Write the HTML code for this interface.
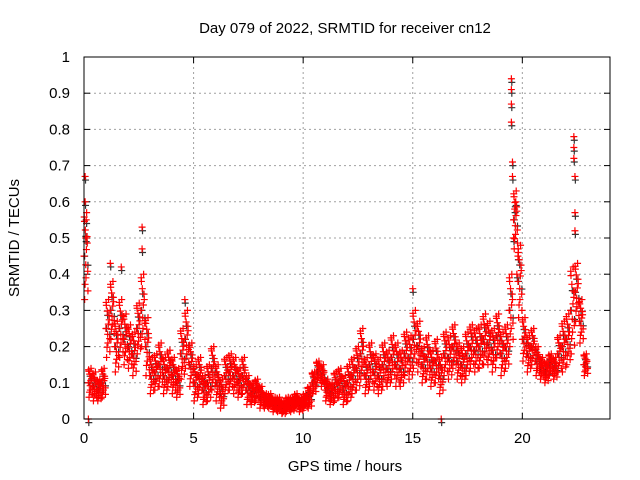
<!DOCTYPE html>
<html><head><meta charset="utf-8"><style>
body{margin:0;background:#fff}
svg{display:block;font-family:"Liberation Sans",sans-serif}
</style></head><body>
<svg id="chart" width="640" height="480"></svg>
<script>
const times0 = 0, step = 0.2;
const midVals = [0.45,0.1,0.09,0.08,0.1,0.25,0.3,0.2,0.25,0.22,0.2,0.18,0.25,0.3,0.2,0.12,0.13,0.15,0.12,0.14,0.12,0.1,0.18,0.22,0.15,0.1,0.12,0.08,0.1,0.14,0.1,0.07,0.12,0.13,0.12,0.1,0.12,0.08,0.07,0.08,0.06,0.05,0.05,0.04,0.04,0.03,0.04,0.04,0.05,0.04,0.05,0.06,0.1,0.13,0.12,0.08,0.07,0.09,0.1,0.08,0.1,0.12,0.14,0.18,0.12,0.15,0.13,0.12,0.15,0.14,0.17,0.15,0.14,0.18,0.17,0.22,0.2,0.15,0.17,0.14,0.16,0.12,0.18,0.17,0.2,0.16,0.15,0.18,0.2,0.19,0.2,0.22,0.21,0.19,0.23,0.18,0.2,0.3,0.55,0.38,0.22,0.18,0.2,0.16,0.14,0.13,0.15,0.14,0.18,0.2,0.22,0.3,0.35,0.27,0.15];
const spreadVals = [0.12,0.04,0.04,0.03,0.04,0.08,0.08,0.07,0.08,0.07,0.06,0.06,0.07,0.1,0.08,0.05,0.05,0.06,0.05,0.05,0.05,0.04,0.07,0.08,0.06,0.05,0.05,0.04,0.05,0.06,0.05,0.04,0.05,0.05,0.05,0.04,0.05,0.04,0.03,0.03,0.03,0.02,0.02,0.02,0.02,0.02,0.02,0.02,0.02,0.02,0.02,0.03,0.03,0.03,0.03,0.03,0.03,0.04,0.04,0.04,0.05,0.05,0.06,0.07,0.05,0.06,0.05,0.05,0.06,0.05,0.06,0.06,0.05,0.06,0.06,0.08,0.07,0.05,0.06,0.05,0.06,0.05,0.06,0.06,0.06,0.05,0.05,0.06,0.06,0.06,0.06,0.07,0.06,0.06,0.06,0.06,0.06,0.1,0.08,0.1,0.06,0.05,0.05,0.04,0.03,0.03,0.03,0.03,0.05,0.07,0.07,0.12,0.08,0.06,0.03];
const spikeT = [0.05,0.05,0.1,0.08,2.65,2.65,19.5,19.5,19.5,19.5,19.55,19.55,19.7,22.35,22.35,22.35,22.4,22.4,22.4,0.2,16.3,19.8,19.6,1.2,1.7,15.0,4.6,19.65,19.75];
const spikeV = [0.67,0.6,0.55,0.5,0.53,0.47,0.94,0.91,0.87,0.82,0.71,0.67,0.6,0.78,0.75,0.72,0.67,0.57,0.52,0.0,0.0,0.45,0.5,0.43,0.42,0.36,0.33,0.58,0.4];
const xTicks = [0,5,10,15,20];
const yTicks = [0,0.1,0.2,0.3,0.4,0.5,0.6,0.7,0.8,0.9,1];

const L=84,R=610,T=57,B=419;
const xs=t=>L+(t/24)*(R-L);
const ys=v=>B-v*(B-T);
const svg=document.getElementById('chart');
const NS='http://www.w3.org/2000/svg';
function mk(tag,attrs,parent){const e=document.createElementNS(NS,tag);for(const k in attrs)e.setAttribute(k,attrs[k]);(parent||svg).appendChild(e);return e;}

const grid=mk('g',{});


yTicks.forEach(v=>{
  if(v>0&&v<1){const l=mk('line',{x1:L,x2:R,y1:ys(v),y2:ys(v),stroke:'#a0a0a0','stroke-dasharray':'2,3','stroke-width':1},grid);
  }
  const t=mk('text',{x:L-14,y:ys(v)+5,'text-anchor':'end','font-size':15,fill:'#000'});
  t.textContent=String(v);
  
  mk('line',{x1:L,x2:L+6,y1:ys(v),y2:ys(v),stroke:'#000'});
  mk('line',{x1:R,x2:R-6,y1:ys(v),y2:ys(v),stroke:'#000'});
});
xTicks.forEach(v=>{
  if(v>0){const l=mk('line',{x1:xs(v),x2:xs(v),y1:T,y2:B,stroke:'#a0a0a0','stroke-dasharray':'2,3','stroke-width':1},grid);
  }
  const t=mk('text',{x:xs(v),y:B+24,'text-anchor':'middle','font-size':15,fill:'#000'});
  t.textContent=String(v);
  
  mk('line',{x1:xs(v),x2:xs(v),y1:B,y2:B-6,stroke:'#000'});
  mk('line',{x1:xs(v),x2:xs(v),y1:T,y2:T+6,stroke:'#000'});
});

function plus(g,t,v,c){
  const x=xs(t),y=ys(v);
  mk('path',{d:`M${x-3.5} ${y}h7M${x} ${y-3.5}v7`,stroke:c,'stroke-width':1.2,fill:'none'},g);
}
const offs=[0,0.03,0.06,0.09,0.12,0.15,0.18,0.02,0.08,0.14,0.05,0.11,0.17,0.01];
const ks=[0,-1,0.6,-0.5,1,0.3,-0.8,0.8,-0.2,0.45,-0.65,0.15,-0.35,0.9];
const blk=mk('g',{});


const red=mk('g',{});


midVals.forEach((m,i)=>{
  const t0=times0+i*step, s=spreadVals[i];
  offs.forEach((o,j)=>{
    const v=Math.max(0.015,m+ks[j]*s);
    if(j%5===0) plus(blk,t0+o+0.03,Math.max(0.015,m-ks[j]*s*0.7),'#333');
    plus(red,t0+o,v,'#f00');
  });
});
spikeT.forEach((t,i)=>{plus(blk,t+0.02,spikeV[i]-0.01,'#333');plus(red,t,spikeV[i],'#f00');});

const fr=mk('rect',{x:L,y:T,width:R-L,height:B-T,fill:'none',stroke:'#000','stroke-width':1});

const ti=mk('text',{x:345,y:33,'text-anchor':'middle','font-size':15});
ti.textContent='Day 079 of 2022, SRMTID for receiver cn12';

const xl=mk('text',{x:345,y:471,'text-anchor':'middle','font-size':15});
xl.textContent='GPS time / hours';

const yl=mk('text',{x:0,y:0,'text-anchor':'middle','font-size':15,transform:'translate(19,238) rotate(-90)'});
yl.textContent='SRMTID / TECUs';

</script>
</body></html>
